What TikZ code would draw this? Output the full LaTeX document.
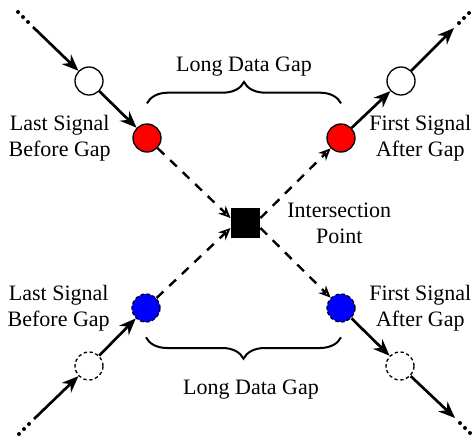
\documentclass[tikz,border=0pt]{standalone}
\usepackage{fontspec}
\setmainfont{Liberation Serif}
\usetikzlibrary{arrows.meta,positioning,decorations.pathreplacing}
\definecolor{sigred}{RGB}{255,0,0}
\definecolor{sigblue}{RGB}{0,0,255}
\tikzset{
  sig/.style={circle, draw=black, line width=1pt, minimum size=21pt, inner sep=0pt},
  ghost/.style={sig, dash pattern=on 2.5pt off 2pt},
  lbl/.style={font=\fontsize{16.5}{19.5}\selectfont, align=center, inner sep=0pt},
  flow/.style={line width=2pt, -{Stealth[length=12.5pt,width=10pt]}},
  jump/.style={line width=1.8pt, dash pattern=on 7pt off 6pt,
    -{Stealth[open,length=9pt,width=8pt,line width=1.3pt]}},
  gapbrace/.style={decorate, decoration={brace, amplitude=16pt}, line width=1.5pt}
}

\begin{document}
\begin{tikzpicture}[x=0.75pt, y=-0.75pt]
\useasboundingbox (0,0) rectangle (474,439);
% signals
\node[sig, fill=white] (wtl) at (89,81) {};
\node[sig, fill=sigred] (rl) at (147,138) {};
\node[sig, fill=sigred] (rr) at (341,138) {};
\node[sig, fill=white] (wtr) at (401,81) {};
\node[ghost, fill=sigblue] (bl) at (146,308) {};
\node[ghost, fill=sigblue] (br) at (341,308) {};
\node[ghost, fill=white] (gbl) at (89,366) {};
\node[ghost, fill=white] (gbr) at (400,366) {};
\node[fill=black, minimum size=22pt, inner sep=0pt] (sq) at (245.5,223) {};

% open ends
\coordinate (tl) at (33,27);
\coordinate (tr) at (454,28);
\coordinate (bl0) at (34,419);
\coordinate (br0) at (455,418);
\foreach \k in {1,2,3}{
  \fill ([shift={(-5*\k,-5*\k)}]tl) circle (2);
  \fill ([shift={(5*\k,-5*\k)}]tr) circle (2);
  \fill ([shift={(-5*\k,5*\k)}]bl0) circle (2);
  \fill ([shift={(5*\k,5*\k)}]br0) circle (2);
}

\draw[flow] (tl) -- (wtl);
\draw[flow] (wtl) -- (rl);
\draw[flow] (rr) -- (wtr);
\draw[flow] (wtr) -- (tr);
\draw[flow] (bl0) -- (gbl);
\draw[flow] (gbl) -- (bl);
\draw[flow] (br) -- (gbr);
\draw[flow] (gbr) -- (br0);

\draw[jump] (rl) -- ([yshift=3.75pt]sq.west);
\draw[jump] (bl) -- ([yshift=-3.75pt]sq.west);
\draw[jump] ([yshift=3.75pt]sq.east) -- (rr);
\draw[jump] ([yshift=-3.75pt]sq.east) -- (br);

% gaps
\draw[gapbrace] ([yshift=15pt]rl.north) -- ([yshift=15pt]rr.north);
\draw[gapbrace] ([yshift=-11pt]br.south) -- ([yshift=-11pt]bl.south);
\node[lbl] (gaptop) at (244,67) {Long Data Gap};
\node[lbl] (gapbot) at (251,390) {Long Data Gap};

% labels
\node[lbl, left=16pt of rl] (lasttop) {Last Signal\\Before Gap};
\node[lbl, right=10pt of rr] (firsttop) {First Signal\\After Gap};
\node[lbl, left=16pt of bl] (lastbot) {Last Signal\\Before Gap};
\node[lbl, right=10pt of br] (firstbot) {First Signal\\After Gap};
\node[lbl, right=20pt of sq] (ipoint) {Intersection\\Point};
\end{tikzpicture}
\end{document}
